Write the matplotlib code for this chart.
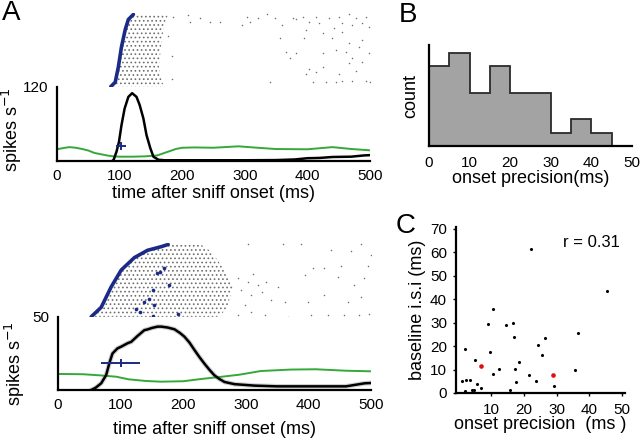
"""odour response rasters, onset precision histogram and isi scatter"""
import numpy as np
import matplotlib
matplotlib.use('Agg')
import matplotlib.pyplot as plt

plt.rcParams['font.family'] = ['Liberation Sans', 'DejaVu Sans']
plt.rcParams['hatch.linewidth'] = 0.7

GREEN = '#35a83a'
NAVY = '#1b2a86'
DOT = '#6f6f6f'

# ---- cell 1 (top of panel A)
top_onset_trial = [0, 6, 27, 55, 79, 93, 100]
top_onset_t = [86, 93, 98, 103, 109, 114, 122]
top_dense_edge_t = [172, 168, 163, 166, 170, 174, 178]
top_sparse_t = [209, 213, 229, 245, 260, 295, 303, 308, 321, 335, 348, 359, 377, 382,
                393, 398, 403, 414, 419, 425, 435, 443, 451, 456, 467, 472, 477, 488,
                493, 499, 356, 395, 440, 456, 467, 488, 366, 382, 425, 446, 462, 483,
                499, 372, 472, 488, 467, 403, 414, 398, 425, 451, 477, 340, 409, 430,
                446, 456, 472, 493, 500, 183, 183, 178, 185]
top_sparse_trial = [99, 89, 95, 90, 90, 86, 97, 90, 95, 100, 95, 86, 95, 93,
                    97, 79, 90, 97, 88, 74, 95, 81, 97, 88, 100, 86, 95, 88,
                    97, 83, 67, 67, 67, 76, 60, 65, 48, 46, 46, 51, 48, 55,
                    46, 39, 39, 34, 32, 25, 20, 18, 27, 18, 22, 6, 6, 6,
                    6, 8, 8, 8, 6, 43, 11, 70, 96]

top_rate_t = [88, 90, 95, 99, 103, 108, 114, 120, 127, 132, 138, 143, 149, 154, 162,
              172, 200, 250, 300, 350, 380, 400, 420, 440, 470, 490, 500]
top_rate = [0, 0.5, 15, 31, 58, 85, 104, 110, 104, 91, 69, 42, 21, 7, 2,
            1.2, 1.2, 1.2, 1.2, 1.5, 2.5, 4.5, 5, 6.5, 7, 9, 9.5]
top_base_t = [0, 10, 20, 30, 40, 50, 60, 70, 80, 90, 100, 120, 140, 160, 170, 180,
              190, 200, 220, 250, 290, 320, 350, 400, 440, 470, 500]
top_base = [19, 21, 22.5, 21.5, 19.5, 17, 13, 11, 9, 7.5, 7, 7, 7.5, 9, 12.5, 16,
            19.5, 21.5, 22, 21.5, 23.8, 21.5, 19.4, 19, 22.5, 19.5, 17.3]
top_onset_mean, top_onset_sd, top_onset_y = 102, 8, 24.5

# ---- cell 2 (bottom of panel A)
bot_onset_trial = [1, 14, 42, 65, 82, 92, 97, 100]
bot_onset_t = [53, 69, 85, 101, 122, 143, 165, 176]
bot_dense_edge_t = [258, 270, 280, 266, 252, 242, 233, 228]
bot_sparse_t = [287, 303, 308, 319, 332, 340, 330, 308, 298, 287, 362, 367, 394, 399,
                407, 425, 436, 447, 452, 457, 463, 468, 473, 481, 484, 489, 495, 497,
                500, 404, 431, 388, 359, 303, 484, 425, 292, 312, 326, 351]
bot_sparse_trial = [54, 49, 31, 44, 49, 24, 3, 7, 17, 3, 21, 0.5, 58, 21,
                    68, 31, 93, 56, 70, 3, 21, 91, 44, 3, 28, 54, 70, 5,
                    86, 3, 3, 100, 100, 100, 100, 68, 38, 60, 35, 42]
bot_burst_t = [125, 131, 137, 146, 153, 151, 158, 163, 169, 178, 191, 151]
bot_burst_trial = [12, 7, 21, 25, 17, 38, 61, 62, 68, 45, 5, 1.5]

bot_rate_t = [53, 60, 69, 77, 82, 87, 95, 101, 111, 117, 127, 138, 143, 150, 159, 165,
              175, 186, 195, 202, 210, 218, 226, 234, 242, 250, 258, 266, 282, 314,
              350, 400, 460, 490, 500]
bot_rate = [0, 1.5, 4.6, 10.3, 18.3, 25, 28.5, 29.7, 32, 33, 37, 41, 41.5, 42.5, 43.4,
            43.4, 42.8, 41.6, 39, 36.5, 32.5, 27.4, 22.5, 18, 13.8, 10, 7.5, 5.5, 4, 3,
            2.5, 2.5, 2.5, 4.6, 4.8]
bot_base_t = [0, 40, 68, 93, 113, 140, 164, 200, 228, 260, 290, 324, 372, 412, 460, 500]
bot_base = [11, 10.8, 10, 9.1, 7.3, 6.2, 5.7, 6, 7.5, 9, 10.5, 13, 14, 14.2, 13.2, 12.8]
bot_onset_mean, bot_onset_lo, bot_onset_hi, bot_onset_y = 100, 69, 131, 18.7

# ---- panel B
bin_edges = [0, 5, 10, 15, 20, 25, 30, 35, 40, 45]
bin_counts = [6, 7, 4, 6, 4, 4, 1, 2, 1]

# ---- panel C
precision = [2.2, 1.2, 2.4, 3.5, 2.2, 4.3, 4.8, 5.6, 5.0, 6.8, 9.0, 9.6, 10.6, 10.7,
             12.3, 14.7, 15.7, 16.8, 17.1, 17.3, 17.7, 18.4, 21.6, 22.2, 23.6, 24.3,
             25.6, 26.4, 29.3, 30.4, 32.6, 35.6, 36.7, 45.5]
isi = [18.7, 5.1, 5.7, 5.7, 0.7, 1.1, 1.4, 4.0, 13.9, 2.1, 29.6, 17.3, 35.6, 8.3,
       10.3, 29.0, 1.3, 30.0, 24.0, 10.2, 4.5, 13.4, 7.6, 61.2, 5.1, 20.4,
       16.3, 23.3, 2.8, 0.2, 0.2, 9.9, 25.7, 43.6]
precision_red = [6.8, 29.0]
isi_red = [11.6, 7.5]
r_value = 0.31

W, H = 640, 441
fig = plt.figure(figsize=(W / 100, H / 100), dpi=100)


def px_axes(left, top, right, bottom):
    return fig.add_axes([left / W, 1 - bottom / H, (right - left) / W, (bottom - top) / H])


def raster(ax, onset_t, onset_trial, edge_t, sp_t, sp_trial):
    ax.fill_betweenx(onset_trial, onset_t, edge_t, facecolor='none',
                     edgecolor='#707070', linewidth=0, hatch='....')
    ax.scatter(sp_t, sp_trial, s=1.2, color=DOT, linewidths=0)
    ax.plot(onset_t, onset_trial, color=NAVY, lw=2.6, solid_capstyle='round')
    ax.set_xlim(0, 500)
    ax.set_ylim(-2, 102)
    ax.axis('off')


def rate_axes(ax, top_val, lab_x, lab_y, xlab_y):
    for s in ['top', 'right']:
        ax.spines[s].set_visible(False)
    for s in ['left', 'bottom']:
        ax.spines[s].set_linewidth(1.6)
    ax.set_xlim(0, 500)
    ax.set_ylim(0, top_val)
    ax.set_xticks([0, 100, 200, 300, 400, 500])
    ax.set_yticks([top_val])
    ax.tick_params(length=0, labelsize=11, pad=6)
    ax.set_ylabel('spikes s$^{-1}$', fontsize=13)
    ax.yaxis.set_label_coords(lab_x, lab_y)
    ax.set_xlabel('time after sniff onset (ms)', fontsize=13)
    ax.xaxis.set_label_coords(0.5, xlab_y)


# top raster + rate
r1 = px_axes(57, 13, 370, 88)
raster(r1, top_onset_t, top_onset_trial, top_dense_edge_t, top_sparse_t, top_sparse_trial)
a1 = px_axes(57, 87, 370, 161)
a1.plot(top_base_t, top_base, color=GREEN, lw=1.4)
a1.plot(top_rate_t, top_rate, color='black', lw=1.8)
a1.errorbar([top_onset_mean], [top_onset_y], xerr=[top_onset_sd], color=NAVY,
            lw=1.4, capsize=0, marker='|', ms=6, mew=1.4)
rate_axes(a1, 120, -0.105, 0.42, -0.33)

# bottom raster + rate
r2 = px_axes(58, 243, 371, 319)
raster(r2, bot_onset_t, bot_onset_trial, bot_dense_edge_t, bot_sparse_t, bot_sparse_trial)
r2.scatter(bot_burst_t, bot_burst_trial, s=7, color=NAVY, linewidths=0)
a2 = px_axes(58, 317, 371, 390)
a2.plot(bot_rate_t, bot_rate, color='#a0a0a0', lw=3.4, alpha=0.5, solid_capstyle='round')
a2.plot(bot_base_t, bot_base, color=GREEN, lw=1.4)
a2.plot(bot_rate_t, bot_rate, color='black', lw=1.8)
a2.errorbar([bot_onset_mean], [bot_onset_y],
            xerr=[[bot_onset_mean - bot_onset_lo], [bot_onset_hi - bot_onset_mean]],
            color=NAVY, lw=1.4, capsize=0, marker='|', ms=6, mew=1.4)
rate_axes(a2, 50, -0.1, 0.36, -0.43)

# panel B
b = px_axes(429, 45, 632, 146)
b.stairs(bin_counts, bin_edges, fill=True, color='#a3a3a3')
b.stairs(bin_counts, bin_edges, color='#2b2b2b', lw=1.3, baseline=0)
for s in ['top', 'right']:
    b.spines[s].set_visible(False)
for s in ['left', 'bottom']:
    b.spines[s].set_linewidth(1.6)
b.set_xlim(0, 50)
b.set_ylim(0, 7.6)
b.set_xticks([0, 10, 20, 30, 40, 50])
b.set_yticks([])
b.tick_params(length=0, labelsize=11, pad=7)
b.set_xlabel('onset precision(ms)', fontsize=13)
b.xaxis.set_label_coords(0.5, -0.24)
b.set_ylabel('count', fontsize=13)
b.yaxis.set_label_coords(-0.05, 0.5)

# panel C
c = px_axes(456, 227, 625, 393)
c.scatter(precision, isi, s=5, color='black', linewidths=0)
c.scatter(precision_red, isi_red, s=11, color='#e01010', linewidths=0)
for s in ['top', 'right']:
    c.spines[s].set_visible(False)
for s in ['left', 'bottom']:
    c.spines[s].set_linewidth(1.6)
c.set_xlim(-0.7, 50.9)
c.set_ylim(0, 70.7)
c.set_xticks([10, 20, 30, 40, 50])
c.set_yticks([0, 10, 20, 30, 40, 50, 60, 70])
c.tick_params(length=2.5, width=1, labelsize=11, pad=4)
c.tick_params(axis='x', pad=5)
c.set_xlabel('onset precision  (ms )', fontsize=13)
c.xaxis.set_label_coords(0.5, -0.14)
c.set_ylabel('baseline i.s.i (ms)', fontsize=13)
c.yaxis.set_label_coords(-0.18, 0.5)
c.text(40.5, 64, 'r = %.2f' % r_value, fontsize=12, ha='center', va='center')

fig.text(2 / W, 1 - 13 / H, 'A', fontsize=20, va='center')
fig.text(399 / W, 1 - 15 / H, 'B', fontsize=20, va='center')
fig.text(396 / W, 1 - 226 / H, 'C', fontsize=20, va='center')

fig.savefig('out.png', dpi=100)
